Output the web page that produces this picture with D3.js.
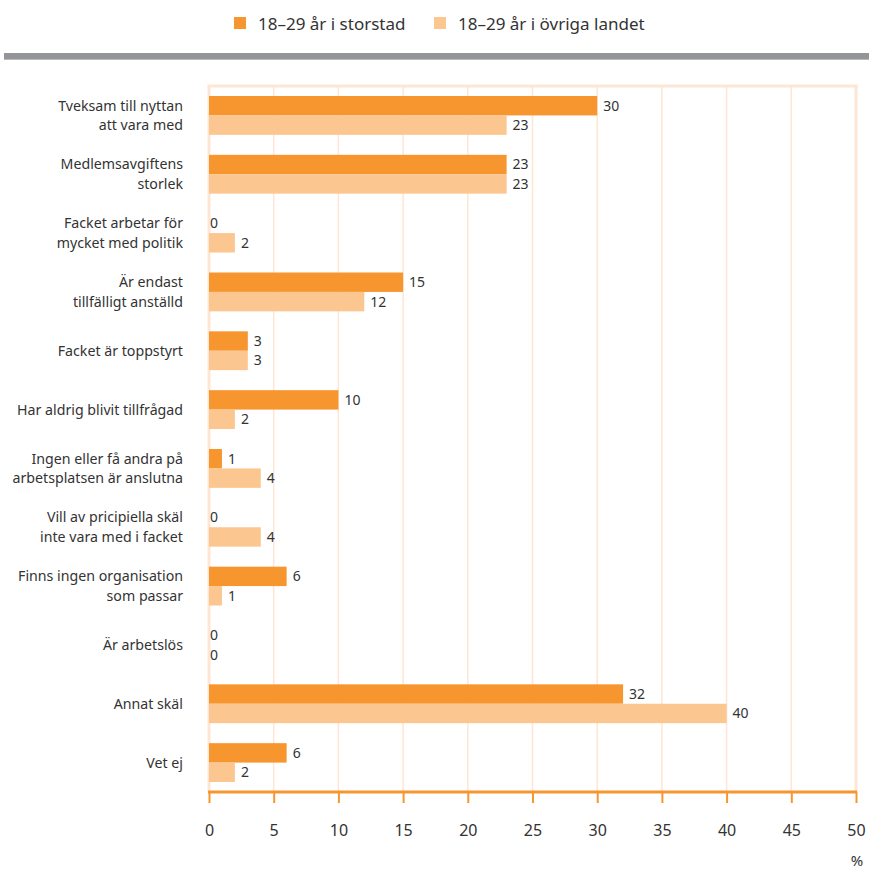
<!DOCTYPE html>
<html><head><meta charset="utf-8">
<script src="https://cdn.jsdelivr.net/npm/d3@7"></script>
<style>body{margin:0;background:#fff}svg{display:block;font-family:"Noto Sans",sans-serif}</style>
</head><body><svg id="c" width="869" height="869"></svg>
<script>
const categories = [
  ["Tveksam till nyttan","att vara med"],
  ["Medlemsavgiftens","storlek"],
  ["Facket arbetar för","mycket med politik"],
  ["Är endast","tillfälligt anställd"],
  ["Facket är toppstyrt"],
  ["Har aldrig blivit tillfrågad"],
  ["Ingen eller få andra på","arbetsplatsen är anslutna"],
  ["Vill av pricipiella skäl","inte vara med i facket"],
  ["Finns ingen organisation","som passar"],
  ["Är arbetslös"],
  ["Annat skäl"],
  ["Vet ej"]
];
const seriesNames = ["18–29 år i storstad", "18–29 år i övriga landet"];
const storstad = [30, 23, 0, 15, 3, 10, 1, 0, 6, 0, 32, 6];
const ovriga   = [23, 23, 2, 12, 3, 2, 4, 4, 1, 0, 40, 2];
const xTicks = [0,5,10,15,20,25,30,35,40,45,50];
const colors = ["#f7952f", "#fcc690"];

const svg = d3.select("#c");
const pL = 209, pR = 856, pT = 86, pB = 792;
const x = d3.scaleLinear().domain([0,50]).range([pL,pR]);
const y = d3.scaleBand().domain(d3.range(categories.length)).range([pT,pB]).paddingInner(0.34).paddingOuter(0.17);
const bh = y.bandwidth()/2;

// legend
const lg = svg.append("g");
const lx = [234, 434];
seriesNames.forEach((s,i)=>{
  lg.append("rect").attr("x",lx[i]).attr("y",17).attr("width",12).attr("height",12).attr("fill",colors[i]);
  lg.append("text").attr("x",lx[i]+24).attr("y",30).attr("font-size",17).attr("fill","#333").text(s);
});
// gray rule
svg.append("rect").attr("x",4).attr("y",53).attr("width",865).attr("height",6).attr("fill","#939598");
svg.append("rect").attr("x",4).attr("y",59).attr("width",865).attr("height",1).attr("fill","#b9babd");

// grid
const grid = svg.append("g");
xTicks.forEach(t=>{
  grid.append("line").attr("x1",x(t)).attr("x2",x(t)).attr("y1",pT).attr("y2",pB)
    .attr("stroke","#fde6d4").attr("stroke-width",(t===0||t===50)?3:1.5);
});
grid.append("line").attr("x1",x(0)-1.5).attr("x2",x(50)+1.5).attr("y1",pT).attr("y2",pT)
  .attr("stroke","#fde6d4").attr("stroke-width",3);

// bars
const g = svg.append("g");
categories.forEach((c,i)=>{
  const y0 = y(i);
  [storstad[i], ovriga[i]].forEach((v,j)=>{
    const yy = y0 + j*bh;
    if (v>0) g.append("rect").attr("x",x(0)).attr("y",yy).attr("width",x(v)-x(0)).attr("height",bh).attr("fill",colors[j]);
    g.append("text").attr("x",x(v)+(v>0?6:1)).attr("y",yy+bh/2).attr("dy","0.35em")
      .attr("font-size",14).attr("fill","#333").text(v);
  });
  const t = g.append("text").attr("text-anchor","end").attr("font-size",14.2).attr("fill","#333");
  const n = c.length, lh = 19.5;
  const cy = y0 + y.bandwidth()/2;
  c.forEach((line,k)=>{
    t.append("tspan").attr("x",183).attr("y",cy + (k-(n-1)/2)*lh).attr("dy","0.35em").text(line);
  });
});

// axis
const axis = d3.axisBottom(x).tickValues(xTicks).tickSize(11).tickPadding(22).tickFormat(d3.format("d"));
const ax = svg.append("g").attr("transform",`translate(0,${pB})`).call(axis);
ax.select(".domain").attr("stroke","#f7952f").attr("stroke-width",3).attr("d",`M${x(0)-1},0H${x(50)+1}`);
ax.selectAll(".tick line").attr("stroke","#f7952f").attr("stroke-width",2);
ax.selectAll(".tick text").attr("font-size",16).attr("fill","#333").attr("font-family","Noto Sans, sans-serif");
svg.append("text").attr("x",857).attr("y",866).attr("text-anchor","middle").attr("font-size",15).attr("fill","#333").text("%");
</script></body></html>
